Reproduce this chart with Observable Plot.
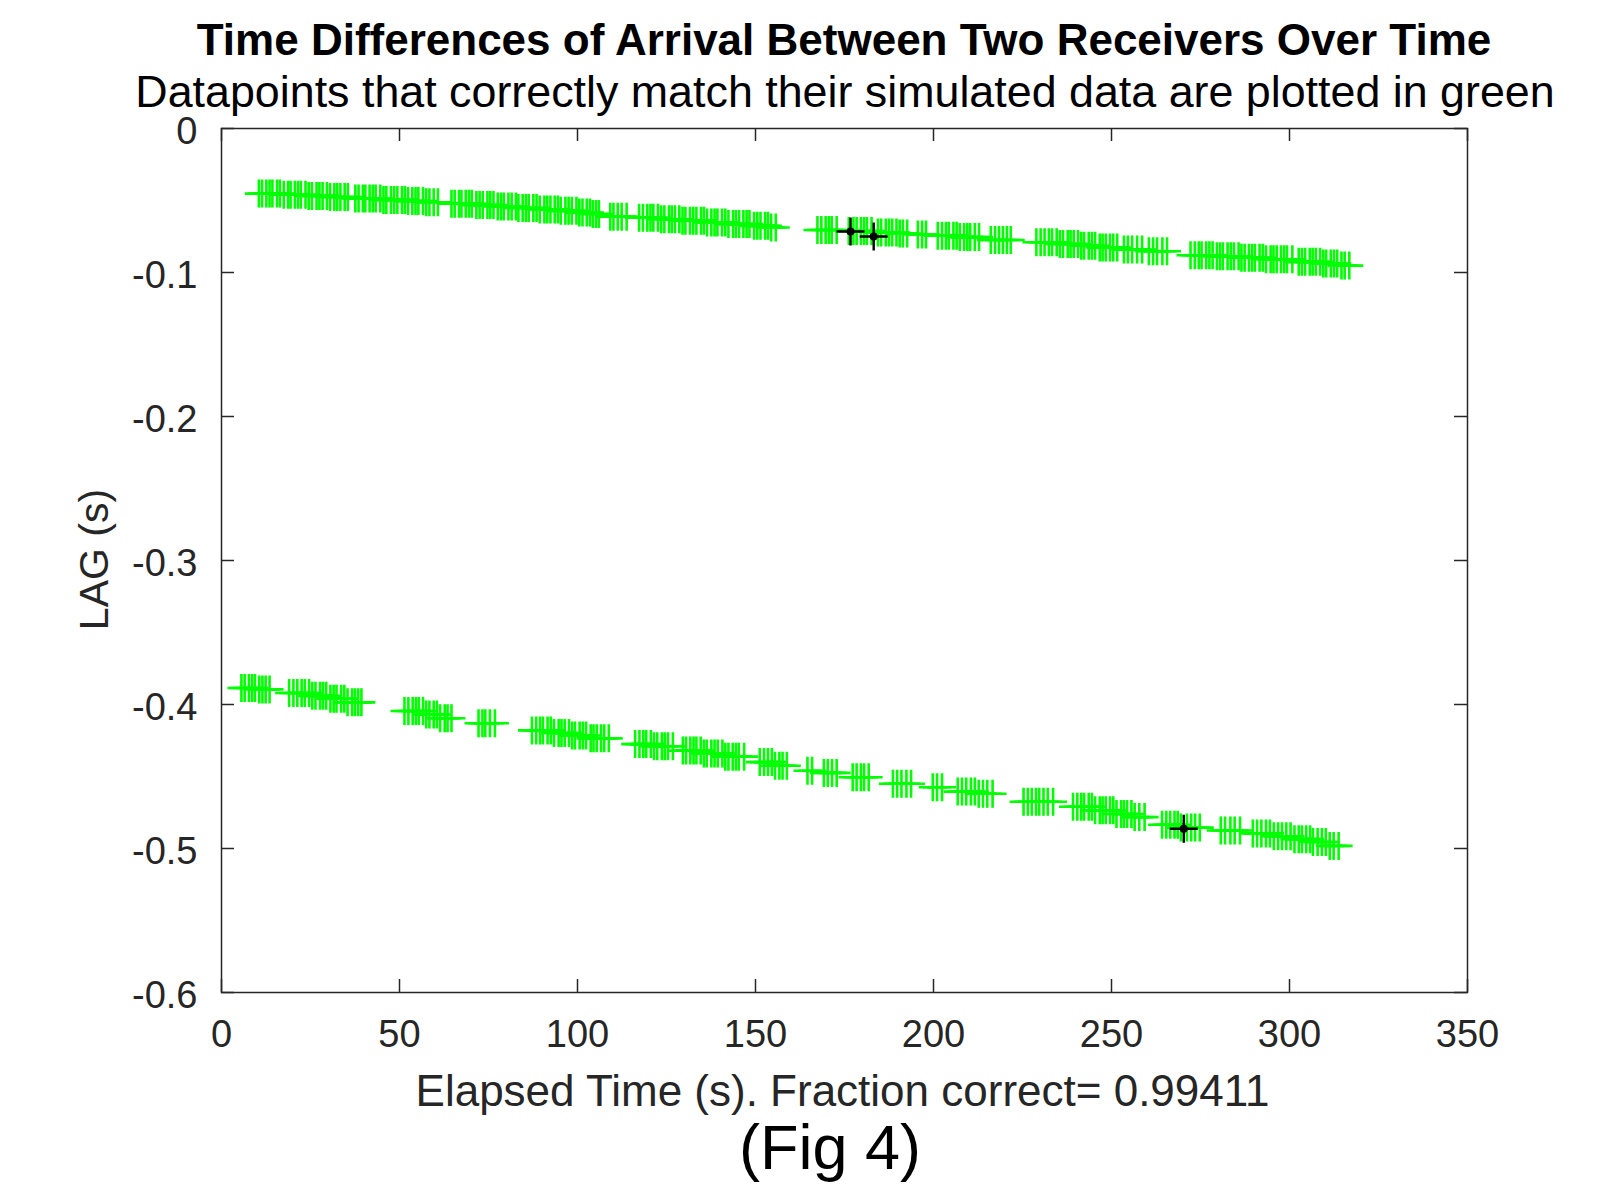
<!DOCTYPE html>
<html>
<head>
<meta charset="utf-8">
<script src="https://cdn.jsdelivr.net/npm/d3@7"></script>
<script src="https://cdn.jsdelivr.net/npm/@observablehq/plot@0.6"></script>
<style>
  html, body { margin: 0; padding: 0; background: #fff; }
  #wrap { position: relative; width: 1624px; height: 1184px; background: #fff; overflow: hidden;
          font-family: "Liberation Sans", Arial, Helvetica, sans-serif; }
  .txt { position: absolute; width: 1600px; text-align: center; line-height: 1; white-space: nowrap; }
  #title { top: 17.8px; left: 44px; font-size: 44px; font-weight: bold; color: #000; }
  #subtitle { top: 71px; left: 45px; font-size: 44.8px; line-height: 0.92; color: #000; }
  #caption { top: 1116px; left: 30px; font-size: 63px; color: #000; }
  #chart { position: absolute; left: 0; top: 100px; }
</style>
</head>
<body>
<div id="wrap">
  <div id="chart"></div>
  <div class="txt" id="title"></div>
  <div class="txt" id="subtitle"></div>
  <div class="txt" id="caption"></div>
</div>
<script>
// ---- texts ----
const titleText = "Time Differences of Arrival Between Two Receivers Over Time";
const subtitleText = "Datapoints that correctly match their simulated data are plotted in green";
const xLabel = "Elapsed Time (s). Fraction correct= 0.99411";
const yLabel = "LAG (s)";
const captionText = "(Fig 4)";

// ---- axes ----
const xTicks = [0, 50, 100, 150, 200, 250, 300, 350];
const yTicks = [0, -0.1, -0.2, -0.3, -0.4, -0.5, -0.6];
const yTickLabels = ["0", "-0.1", "-0.2", "-0.3", "-0.4", "-0.5", "-0.6"];

// ---- data: runs of [lag (s), [elapsed times (s)]] ----
const upperRuns = [
  [-0.0452, [10.5, 11.4, 12.6, 13.5, 14.3, 15.6, 16.4]],
  [-0.0460, [17.5, 18.7, 19.4, 20.6, 21.5, 22.3, 23.6]],
  [-0.0468, [24.5, 25.4, 26.7, 27.5, 28.4, 29.6]],
  [-0.0476, [30.5, 31.7, 32.5, 33.4, 34.6, 35.5]],
  [-0.0486, [37.6, 38.5, 39.7, 40.4, 41.6, 42.5, 43.3, 44.6]],
  [-0.0496, [45.5, 46.3, 47.6, 48.5, 49.4, 50.7, 51.5]],
  [-0.0504, [52.4, 53.6, 54.5, 55.3, 56.6]],
  [-0.0512, [57.5, 58.4, 59.6, 60.8]],
  [-0.0522, [64.6, 65.5, 66.7, 67.4, 68.6, 69.5, 70.3]],
  [-0.0532, [71.6, 72.5, 73.4, 74.7, 75.5, 76.4]],
  [-0.0542, [77.6, 78.5, 79.3, 80.6, 81.5, 82.7]],
  [-0.0552, [83.4, 84.6, 85.5, 86.3, 87.6, 88.5]],
  [-0.0562, [89.4, 90.7, 91.5, 92.4, 93.6, 94.5]],
  [-0.0572, [95.3, 96.6, 97.5, 98.4, 99.7]],
  [-0.0584, [100.5, 101.4, 102.6, 103.5]],
  [-0.0594, [104.3, 105.2, 106.0]],
  [-0.0612, [109.2, 110.1, 111.3, 112.4, 113.8]],
  [-0.0620, [117.3, 118.4, 119.6, 120.5, 121.3, 122.6]],
  [-0.0630, [123.5, 124.4, 125.7, 126.5, 127.4, 128.6]],
  [-0.0640, [129.5, 130.3, 131.6, 132.5, 133.4, 134.7, 135.5]],
  [-0.0652, [136.4, 137.6, 138.5, 139.3, 140.6, 141.5]],
  [-0.0664, [142.4, 143.7, 144.5, 145.4, 146.6, 147.5, 148.3]],
  [-0.0676, [149.6, 150.5, 151.4, 152.7, 153.5]],
  [-0.0688, [154.4, 155.7]],
  [-0.0705, [167.4, 168.5, 169.7, 170.6, 171.4, 172.8]],
  [-0.0712, [176.2, 177.5, 178.4, 179.6, 180.5, 181.3, 182.6]],
  [-0.0722, [184.4, 185.3, 186.6, 187.5, 188.4, 189.6]],
  [-0.0730, [190.5, 191.4, 192.6]],
  [-0.0736, [195.6, 196.8, 197.9]],
  [-0.0744, [201.2, 202.4, 203.5, 204.3, 205.6, 206.5]],
  [-0.0754, [207.4, 208.6, 209.5, 210.3, 211.6, 212.8]],
  [-0.0774, [216.1, 217.3, 218.4, 219.5, 220.6, 221.7]],
  [-0.0790, [228.9, 230.1, 231.2, 232.4, 233.3, 234.6]],
  [-0.0802, [235.5, 236.4, 237.7, 238.5, 239.4, 240.6]],
  [-0.0814, [241.5, 242.3, 243.6, 244.5, 245.4]],
  [-0.0826, [246.7, 247.5, 248.4, 249.6, 250.5, 251.6]],
  [-0.0840, [253.5, 254.6, 255.8, 257.2, 258.6]],
  [-0.0852, [260.5, 261.7, 262.8, 264.3, 265.6]],
  [-0.0880, [272.2, 273.4, 274.5, 275.3, 276.6, 277.5, 278.4]],
  [-0.0888, [279.6, 280.5, 281.3, 282.6, 283.5, 284.4, 285.7]],
  [-0.0898, [286.5, 287.4, 288.6, 289.5, 290.3, 291.6, 292.5]],
  [-0.0908, [293.4, 294.7, 295.5, 296.4, 297.6, 298.5, 299.3, 300.8]],
  [-0.0926, [302.6, 303.5, 304.4, 305.7, 306.5, 307.4, 308.6]],
  [-0.0938, [309.5, 310.3, 311.6, 312.5, 313.4]],
  [-0.0952, [314.6, 315.5, 316.8]]
];

const lowerRuns = [
  [-0.3885, [5.6, 6.5, 7.7, 8.6, 9.4]],
  [-0.3895, [10.6, 11.5, 12.4, 13.5]],
  [-0.3920, [19.0, 20.2, 21.3, 22.5, 23.4, 24.6]],
  [-0.3940, [25.5, 26.4, 27.7, 28.5, 29.4]],
  [-0.3960, [30.6, 31.5, 32.3, 33.6, 34.5]],
  [-0.3985, [35.4, 36.7, 37.5, 38.4, 39.3]],
  [-0.4045, [51.4, 52.5, 53.7, 54.6, 55.4, 56.6]],
  [-0.4070, [57.5, 58.4, 59.6, 60.5]],
  [-0.4095, [61.4, 62.7, 63.5, 64.6]],
  [-0.4130, [72.2, 73.3, 74.1, 75.4, 76.8]],
  [-0.4180, [87.2, 88.4, 89.5, 90.3, 91.6, 92.5]],
  [-0.4198, [93.4, 94.7, 95.5, 96.4, 97.6]],
  [-0.4215, [98.5, 99.3, 100.6, 101.5, 102.4]],
  [-0.4235, [103.7, 104.5, 105.4, 106.6, 107.5, 108.8]],
  [-0.4275, [116.2, 117.4, 118.5, 119.3, 120.6]],
  [-0.4290, [121.5, 122.4, 123.7, 124.5, 125.4, 126.8]],
  [-0.4320, [129.6, 130.5, 131.7, 132.6, 133.4, 134.6]],
  [-0.4340, [135.5, 136.3, 137.6, 138.5, 139.4, 140.7]],
  [-0.4362, [141.5, 142.4, 143.6, 144.5, 145.3, 146.8]],
  [-0.4400, [151.2, 152.4, 153.5, 154.6]],
  [-0.4425, [155.5, 156.7, 157.6, 158.8]],
  [-0.4460, [164.6, 165.9]],
  [-0.4475, [169.2, 170.3, 171.5, 172.8]],
  [-0.4505, [177.3, 178.4, 179.6, 180.5, 181.8]],
  [-0.4550, [188.6, 189.8, 191.0, 192.4, 193.7]],
  [-0.4575, [199.8, 201.0, 202.4]],
  [-0.4605, [206.8, 208.0, 209.2, 210.5, 211.6]],
  [-0.4620, [212.7, 213.9, 215.1, 216.6]],
  [-0.4675, [225.3, 226.5, 227.6, 228.8, 229.7, 230.9, 232.1, 233.6]],
  [-0.4710, [239.2, 240.4, 241.5, 242.3, 243.6, 244.5]],
  [-0.4735, [245.4, 246.7, 247.5, 248.4, 249.6, 250.5]],
  [-0.4760, [251.4, 252.7, 253.5, 254.4, 255.6]],
  [-0.4782, [256.5, 257.8, 259.3]],
  [-0.4835, [264.2, 265.4, 266.5, 267.7, 268.6]],
  [-0.4855, [269.5, 271.2, 272.4, 273.5, 274.8]],
  [-0.4875, [280.7, 281.9, 283.4, 284.6, 286.1]],
  [-0.4895, [289.7, 290.9, 292.1, 293.4, 294.5]],
  [-0.4915, [295.6, 296.8, 297.9, 299.1, 300.3]],
  [-0.4935, [301.4, 302.6, 303.5, 304.7, 305.8]],
  [-0.4955, [306.6, 307.9, 309.1, 310.2]],
  [-0.4982, [311.3, 312.4, 313.8]]
];

// points that did not match the simulated data (black)
const mismatchTimes = [176.7, 183.2, 270.3];
const mismatchLags = [-0.0715, -0.0750, -0.4863];

// ---- build table ----
const toRows = (runs) => runs.flatMap(([lag, times]) => times.map((t) => ({t, lag})));
const correct = [...toRows(upperRuns), ...toRows(lowerRuns)];
const wrong = mismatchTimes.map((t, i) => ({t, lag: mismatchLags[i]}));

// MATLAB-style '+' marker
const plusSymbol = {
  draw(context, size) {
    const r = Math.sqrt(size / Math.PI);
    context.moveTo(-r, 0); context.lineTo(r, 0);
    context.moveTo(0, -r); context.lineTo(0, r);
  }
};

const W = 1624, H = 1020;
const mL = 221, mR = 157, mT = 28, mB = 128;
const plotW = W - mL - mR, plotH = H - mT - mB;
const tickLen = 13;
const axisColor = "#262626";

const chart = Plot.plot({
  width: W,
  height: H,
  marginLeft: mL,
  marginRight: mR,
  marginTop: mT,
  marginBottom: mB,
  style: {background: "transparent", fontFamily: "'Liberation Sans', Arial, Helvetica, sans-serif", color: axisColor},
  x: {domain: [0, 350]},
  y: {domain: [-0.6, 0]},
  marks: [
    // data
    Plot.dot(correct, {x: "t", y: "lag", symbol: plusSymbol, r: 14, stroke: "#00ff00", strokeWidth: 2.6, fill: "none"}),
    Plot.dot(wrong, {x: "t", y: "lag", symbol: plusSymbol, r: 14, stroke: "#000", strokeWidth: 2.4, fill: "none"}),
    Plot.dot(wrong, {x: "t", y: "lag", r: 4, fill: "#000", stroke: "none"}),
    // box and inward ticks on all sides
    Plot.frame({stroke: axisColor, strokeWidth: 1.5}),
    Plot.tickX(xTicks, {x: (d) => d, insetTop: plotH - tickLen, stroke: axisColor, strokeWidth: 1.5}),
    Plot.tickX(xTicks, {x: (d) => d, insetBottom: plotH - tickLen, stroke: axisColor, strokeWidth: 1.5}),
    Plot.tickY(yTicks, {y: (d) => d, insetRight: plotW - tickLen, stroke: axisColor, strokeWidth: 1.5}),
    Plot.tickY(yTicks, {y: (d) => d, insetLeft: plotW - tickLen, stroke: axisColor, strokeWidth: 1.5}),
    // tick labels
    Plot.axisX({ticks: xTicks, tickSize: 0, tickPadding: 28, fontSize: 38, label: null, tickFormat: (d) => String(d)}),
    Plot.axisY({ticks: yTicks, tickSize: 0, tickPadding: 24, fontSize: 38, label: null, dy: 3,
      tickFormat: (d) => yTickLabels[yTicks.findIndex((v) => Math.abs(v - d) < 1e-9)]}),
    // axis labels
    Plot.text([xLabel], {text: (d) => d, frameAnchor: "bottom", dy: 113, dx: -2, fontSize: 44, fill: axisColor}),
    Plot.text([yLabel], {text: (d) => d, frameAnchor: "left", textAnchor: "middle", lineAnchor: "middle",
      rotate: -90, dx: -127, dy: -1, fontSize: 41, fill: axisColor})
  ]
});
document.getElementById("chart").appendChild(chart);
document.getElementById("title").textContent = titleText;
document.getElementById("subtitle").textContent = subtitleText;
document.getElementById("caption").textContent = captionText;
</script>
</body>
</html>
